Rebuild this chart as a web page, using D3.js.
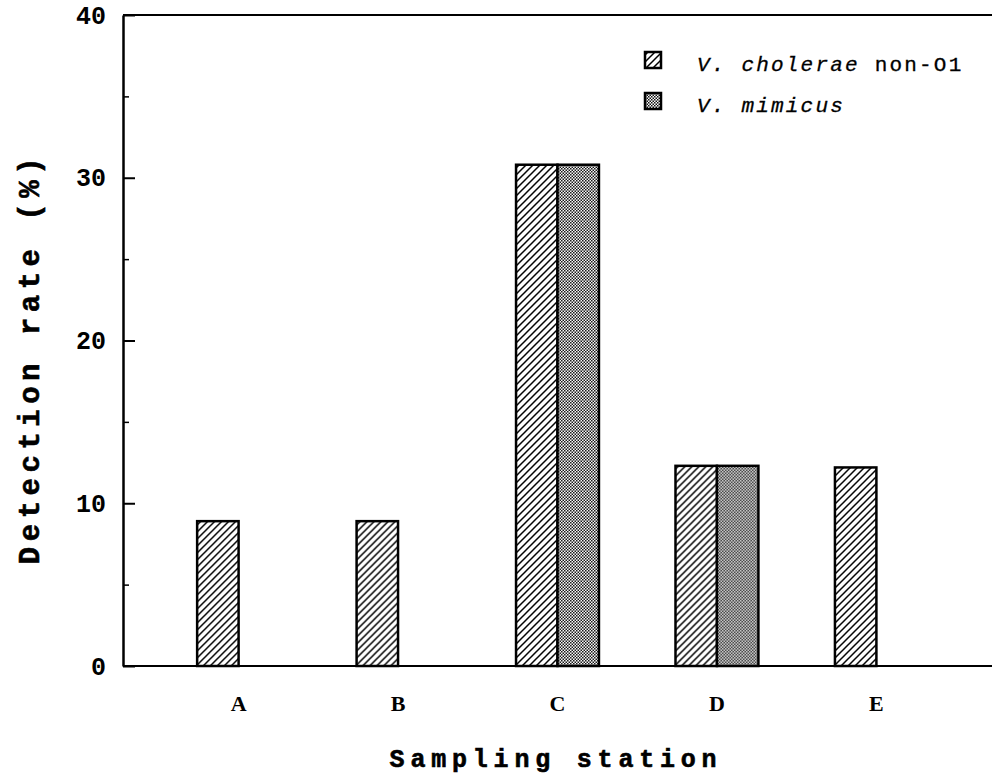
<!DOCTYPE html>
<html lang="en">
<head>
<meta charset="utf-8">
<title>Detection rate by sampling station</title>
<script src="https://cdn.jsdelivr.net/npm/d3@7"></script>
<style>
  body { margin: 0; background: #fff; }
  text { font-family: "Liberation Mono", "Courier New", monospace; fill: #000; }
</style>
</head>
<body>
<script>
// values
var stations = ["A", "B", "C", "D", "E"];
var seriesNames = ["cholerae", "mimicus"];
var cholerae = [8.9, 8.9, 30.8, 12.3, 12.2];
var mimicus = [0, 0, 30.8, 12.3, 0];
var majorTicks = [0, 10, 20, 30, 40];
var minorTicks = [5, 15, 25, 35];

var W = 992, H = 783;
var mLeft = 123, mRight = 992, mTop = 15, mBottom = 666;

var svg = d3.select("body").append("svg").attr("width", W).attr("height", H);

// fill patterns
var defs = svg.append("defs");
var hatch = defs.append("pattern").attr("id", "hatch")
  .attr("patternUnits", "userSpaceOnUse").attr("width", 7).attr("height", 7);
hatch.append("path")
  .attr("d", "M0,7L7,0M-2,2L2,-2M5,9L9,5")
  .attr("stroke", "#000").attr("stroke-width", 1.5);

var dots = defs.append("pattern").attr("id", "dots")
  .attr("patternUnits", "userSpaceOnUse").attr("width", 3).attr("height", 3);
dots.append("rect").attr("width", 3).attr("height", 3).attr("fill", "#fff");
dots.append("rect").attr("x", 0).attr("y", 0).attr("width", 1.5).attr("height", 1.5).attr("fill", "#111");
dots.append("rect").attr("x", 1.5).attr("y", 1.5).attr("width", 1.5).attr("height", 1.5).attr("fill", "#111");

var fills = { cholerae: "url(#hatch)", mimicus: "url(#dots)" };

var x0 = d3.scaleBand().domain(stations).range([mLeft, mRight])
  .paddingInner(0.48).paddingOuter(0.465);
var x1 = d3.scaleBand().domain(seriesNames).range([0, x0.bandwidth()]);
var y = d3.scaleLinear().domain([0, 40]).range([mBottom, mTop]);

// frame: top line and baseline
svg.append("line").attr("x1", mLeft).attr("x2", mRight).attr("y1", mTop).attr("y2", mTop)
  .attr("stroke", "#000").attr("stroke-width", 2);
svg.append("line").attr("x1", mLeft).attr("x2", mRight).attr("y1", mBottom).attr("y2", mBottom)
  .attr("stroke", "#000").attr("stroke-width", 2.2);

// y axis
var yAxis = svg.append("g").attr("transform", "translate(" + mLeft + ",0)")
  .call(d3.axisLeft(y).tickValues(majorTicks).tickSizeInner(-12).tickSizeOuter(0).tickPadding(17));
yAxis.select(".domain").attr("stroke-width", 2.5);
yAxis.selectAll(".tick line").attr("stroke-width", 2);
yAxis.selectAll("text").style("font-size", "25px").style("font-weight", "bold")
  .style("font-family", "'Liberation Mono', monospace");

var yMinor = svg.append("g").attr("transform", "translate(" + mLeft + ",0)")
  .call(d3.axisLeft(y).tickValues(minorTicks).tickSizeInner(-6).tickSizeOuter(0).tickFormat(""));
yMinor.select(".domain").remove();
yMinor.selectAll(".tick line").attr("stroke-width", 1.5);

// x axis labels
var xAxis = svg.append("g").attr("transform", "translate(0," + mBottom + ")")
  .call(d3.axisBottom(x0).tickSize(0).tickPadding(29));
xAxis.select(".domain").remove();
xAxis.selectAll("text").style("font-size", "22px").style("font-weight", "bold")
  .style("font-family", "'Liberation Serif', serif");

// bars
var rows = stations.map(function(s, i) {
  return { station: s, values: [
    { key: "cholerae", value: cholerae[i] },
    { key: "mimicus", value: mimicus[i] }
  ].filter(function(d) { return d.value > 0; }) };
});

svg.append("g").selectAll("g").data(rows).join("g")
  .attr("transform", function(d) { return "translate(" + x0(d.station) + ",0)"; })
  .selectAll("rect").data(function(d) { return d.values; }).join("rect")
  .attr("x", function(d) { return x1(d.key); })
  .attr("width", x1.bandwidth())
  .attr("y", function(d) { return y(d.value); })
  .attr("height", function(d) { return mBottom - y(d.value); })
  .attr("fill", function(d) { return fills[d.key]; })
  .attr("stroke", "#000").attr("stroke-width", 2.5);

// axis titles
svg.append("text")
  .attr("x", 556).attr("y", 767)
  .attr("text-anchor", "middle")
  .style("font-size", "25px").style("font-weight", "bold").style("letter-spacing", "5.8px")
  .style("stroke", "#000").style("stroke-width", 0.6)
  .text("Sampling station");

svg.append("text")
  .attr("transform", "translate(39,358) rotate(-90)")
  .attr("text-anchor", "middle")
  .style("font-size", "29px").style("font-weight", "bold").style("letter-spacing", "5.5px")
  .style("stroke", "#000").style("stroke-width", 0.6)
  .text("Detection rate (%)");

// legend
var legend = svg.append("g");
var legendRows = [
  { key: "cholerae", italic: "V. cholerae", plain: " non-O1", y: 52 },
  { key: "mimicus", italic: "V. mimicus", plain: "", y: 93 }
];
legendRows.forEach(function(d) {
  legend.append("rect").attr("x", 645).attr("y", d.y).attr("width", 16).attr("height", 16)
    .attr("fill", fills[d.key]).attr("stroke", "#000").attr("stroke-width", 2.5);
  var t = legend.append("text").attr("x", 697).attr("y", d.y + 19)
    .style("font-size", "21px").style("letter-spacing", "2.2px")
    .style("stroke", "#000").style("stroke-width", 0.3);
  t.append("tspan").style("font-style", "italic").text(d.italic);
  if (d.plain) t.append("tspan").text(d.plain);
});
</script>
</body>
</html>
